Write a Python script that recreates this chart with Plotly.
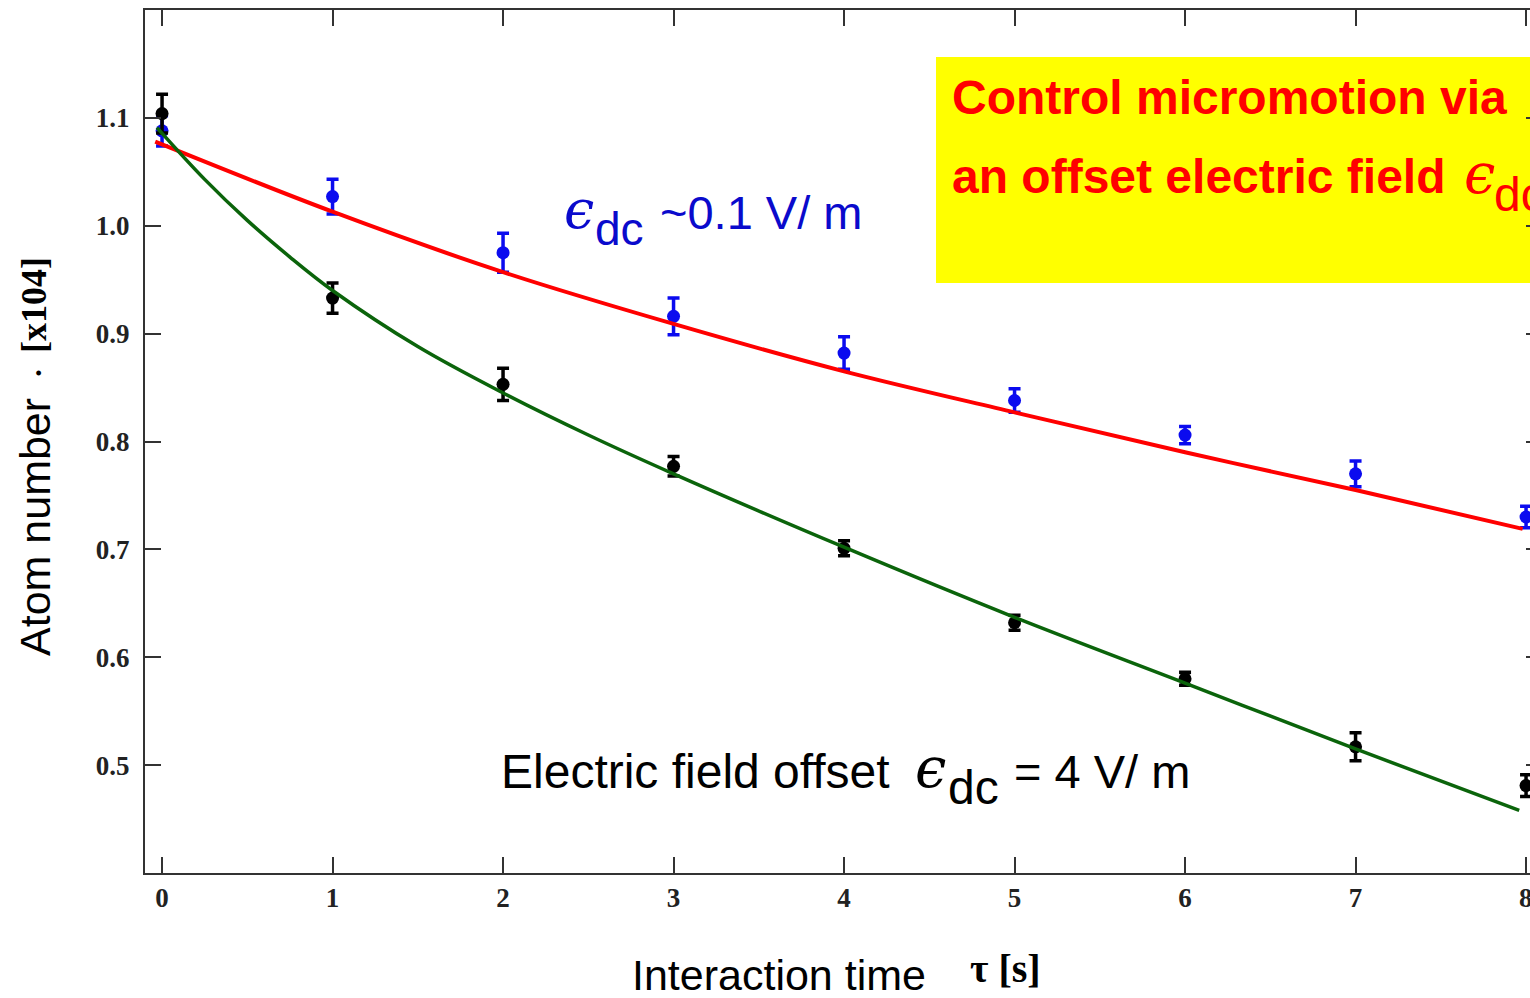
import plotly.graph_objects as go

# ---------------- data ----------------
time_s = [0, 1, 2, 3, 4, 5, 6, 7, 8]
blue_atoms = [1.088, 1.027, 0.975, 0.916, 0.882, 0.838, 0.806, 0.770, 0.730]
blue_err = [0.014, 0.016, 0.018, 0.017, 0.015, 0.011, 0.008, 0.012, 0.010]
black_atoms = [1.104, 0.933, 0.853, 0.777, 0.701, 0.632, 0.580, 0.517, 0.481]
black_err = [0.018, 0.014, 0.015, 0.009, 0.007, 0.007, 0.006, 0.013, 0.010]

red_fit_t = [-0.04, 1, 2, 3, 4, 5, 6, 7, 7.98]
red_fit_v = [1.078, 1.013, 0.957, 0.909, 0.865, 0.827, 0.790, 0.755, 0.719]
green_fit_t = [-0.03, 0.25, 0.5, 0.75, 1, 1.5, 2, 2.5, 3, 4, 5, 6, 7, 7.96]
green_fit_v = [1.091, 1.043, 1.005, 0.971, 0.940, 0.888, 0.845, 0.806, 0.770,
               0.702, 0.637, 0.576, 0.515, 0.458]

x_ticks = [0, 1, 2, 3, 4, 5, 6, 7, 8]
x_tick_text = ["0", "1", "2", "3", "4", "5", "6", "7", "8"]
y_ticks = [0.5, 0.6, 0.7, 0.8, 0.9, 1.0, 1.1]
y_tick_text = ["0.5", "0.6", "0.7", "0.8", "0.9", "1.0", "1.1"]

# ---------------- layout geometry ----------------
W, H = 1530, 998
ML, MR, MT, MB = 145, 0, 10, 125
PW, PH = W - ML - MR, H - MT - MB
X0 = -0.1
PX_PER_X = 170.5
XMAX = X0 + PW / PX_PER_X
YR = [0.4, 1.2]

def pxx(px):
    return (px - ML) / PW

def pxy(py):
    return (H - MB - py) / PH

def datx(px):
    return X0 + (px - ML) / PX_PER_X

def daty(py):
    return YR[1] - (py - MT) * (YR[1] - YR[0]) / PH

SANS = "Liberation Sans, Arial, sans-serif"
SERIF = "Liberation Serif, Times New Roman, serif"
EPS_FONT = "DejaVu Serif, serif"
FRAME = "#333333"
TICKFONT = dict(family=SERIF, size=27, color="#222222", weight="bold")

fig = go.Figure()

fig.add_trace(go.Scatter(
    x=time_s, y=blue_atoms, mode="markers",
    marker=dict(color="#0b0bef", size=13),
    error_y=dict(type="data", array=blue_err, visible=True, thickness=3.5, width=6, color="#0b0bef"),
    showlegend=False, hoverinfo="skip"))
fig.add_trace(go.Scatter(
    x=time_s, y=black_atoms, mode="markers",
    marker=dict(color="#000000", size=13),
    error_y=dict(type="data", array=black_err, visible=True, thickness=3.5, width=6, color="#000000"),
    showlegend=False, hoverinfo="skip"))
fig.add_trace(go.Scatter(
    x=red_fit_t, y=red_fit_v, mode="lines",
    line=dict(color="#ff0000", width=4, shape="spline", smoothing=1.0),
    showlegend=False, hoverinfo="skip"))
fig.add_trace(go.Scatter(
    x=green_fit_t, y=green_fit_v, mode="lines",
    line=dict(color="#0b640b", width=3.5, shape="spline", smoothing=1.0),
    showlegend=False, hoverinfo="skip"))
# dummy trace for right-hand tick axis
fig.add_trace(go.Scatter(x=[0], y=[0.5], yaxis="y2", mode="markers",
                         marker=dict(opacity=0), showlegend=False, hoverinfo="skip"))

# yellow box
fig.add_shape(type="rect", xref="x", yref="y",
              x0=datx(936), x1=XMAX + 0.2, y0=daty(283), y1=daty(57),
              fillcolor="#ffff00", line=dict(width=0), layer="below")

annotations = []

def txt(text, left_px, base_py, size, family, color="#000000", weight="normal",
        anchor="left", style="normal"):
    annotations.append(dict(
        text=text, xref="paper", yref="paper",
        x=pxx(left_px), y=pxy(base_py - 0.34 * size),
        xanchor=anchor, yanchor="middle", showarrow=False,
        font=dict(size=size, family=family, color=color, weight=weight, style=style)))

# box text
txt("Control micromotion via", 950, 114, 48, SANS, "#ff0000", "bold")
txt("an offset electric field", 950, 193, 48, SANS, "#ff0000", "bold")
txt("\u03f5", 1462, 193, 56, EPS_FONT, "#ff0000", style="italic")
txt("dc", 1492, 211, 48, SANS, "#ff0000")

# blue label
txt("\u03f5", 562, 228, 54, EPS_FONT, "#0a0acc", style="italic")
txt("dc", 593, 245, 46, SANS, "#0a0acc")
txt("~0.1 V/ m", 658, 228, 47, SANS, "#0a0acc")

# black label
txt("Electric field offset", 499, 788, 48, SANS)
txt("\u03f5", 913, 787, 56, EPS_FONT, style="italic")
txt("dc", 946, 804, 48, SANS)
txt("= 4 V/ m", 1012, 787, 47, SANS)

# axis titles
txt("Interaction time", 630, 990, 43, SANS)
txt("\u03c4 [s]", 968, 982, 40, SERIF, weight="bold")

annotations.append(dict(text="Atom number", xref="paper", yref="paper",
                        x=pxx(35), y=pxy(527), xanchor="center", yanchor="middle",
                        textangle=-90, showarrow=False,
                        font=dict(size=43, family=SANS, color="#000000")))
annotations.append(dict(text="[x104]", xref="paper", yref="paper",
                        x=pxx(34), y=pxy(305), xanchor="center", yanchor="middle",
                        textangle=-90, showarrow=False,
                        font=dict(size=36, family=SERIF, color="#000000", weight="bold")))
annotations.append(dict(text="\u00b7", xref="paper", yref="paper",
                        x=pxx(37), y=pxy(373), xanchor="center", yanchor="middle",
                        textangle=-90, showarrow=False,
                        font=dict(size=30, family=SERIF, color="#000000", weight="bold")))

# last x tick label sits on the right edge of the picture (cut off, as in the reference)
annotations.append(dict(text=x_tick_text[-1], xref="x", yref="paper",
                        x=x_ticks[-1], y=pxy(898), xanchor="center", yanchor="middle",
                        showarrow=False, font=TICKFONT))

fig.update_layout(
    width=W, height=H,
    margin=dict(l=ML, r=MR, t=MT, b=MB, pad=0),
    paper_bgcolor="white", plot_bgcolor="white",
    annotations=annotations,
    xaxis=dict(range=[X0, XMAX], tickmode="array", tickvals=x_ticks, ticktext=x_tick_text,
               ticks="inside", ticklen=16, tickwidth=2, tickcolor=FRAME,
               showline=True, linecolor=FRAME, linewidth=2, mirror="ticks",
               showgrid=False, zeroline=False, ticklabelstandoff=0,
               automargin=False, tickfont=TICKFONT),
    yaxis=dict(range=YR, tickmode="array", tickvals=y_ticks, ticktext=y_tick_text,
               ticks="inside", ticklen=16, tickwidth=2, tickcolor=FRAME,
               showline=True, linecolor=FRAME, linewidth=2, mirror=False,
               showgrid=False, zeroline=False, ticklabelstandoff=8,
               automargin=False, tickfont=TICKFONT),
    yaxis2=dict(range=YR, overlaying="y", side="right", anchor="x",
                tickmode="array", tickvals=y_ticks, ticks="inside", ticklen=4,
                tickwidth=2, tickcolor=FRAME, showticklabels=False,
                showline=False, showgrid=False, zeroline=False, automargin=False),
)

fig.write_html("out.html", config={"displayModeBar": False},
               post_script="document.body.style.margin='0px';document.body.style.overflow='hidden';")
